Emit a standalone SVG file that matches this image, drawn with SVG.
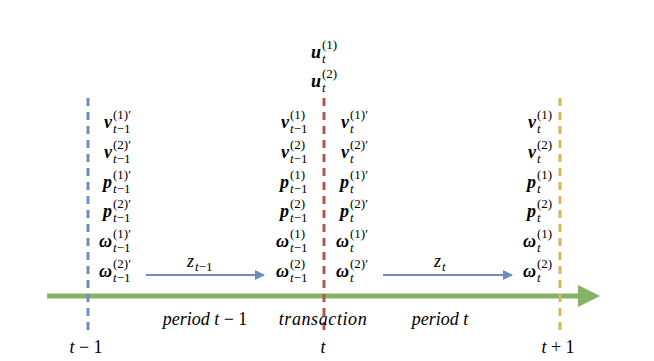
<svg xmlns="http://www.w3.org/2000/svg" width="654" height="361" viewBox="0 0 654 361" font-family="Liberation Serif">
<defs>
<style>
text{font-family:'Liberation Serif',serif;fill:#000}
.b{font-style:italic;font-weight:bold;font-size:18px;text-anchor:end}
.s{font-size:13px}
.si{font-style:italic;font-size:13px}
.n{font-style:normal}
.lab{font-style:italic;font-size:18px;text-anchor:middle}
.dash{fill:none;stroke-width:3;stroke-dasharray:8 6}
.flow{stroke:#6c8ebf;stroke-width:2;fill:none;marker-end:url(#ah)}
</style>
<marker id="ah" viewBox="0 0 10 10" refX="9" refY="5" markerWidth="5" markerHeight="5" orient="auto" markerUnits="strokeWidth">
<path d="M0,0 L10,5 L0,10 z" fill="#6c8ebf"/>
</marker>
</defs>
<g id="connectors">
<path d="M47,296 H582" stroke="#82b366" stroke-width="5" fill="none"/>
<path d="M578,285 L600,296 L578,307 z" fill="#82b366"/>
<line class="dash" x1="88" y1="98" x2="88" y2="336" stroke="#6c8ebf"/>
<line class="dash" x1="324" y1="98" x2="324" y2="336" stroke="#b85450"/>
<line class="dash" x1="560" y1="98" x2="560" y2="336" stroke="#d6b656"/>
<line class="flow" x1="146" y1="275" x2="264" y2="275"/>
<line class="flow" x1="383" y1="275" x2="512" y2="275"/>
</g>
<g id="flow-labels">
<text x="187" y="267" class="si" style="font-size:18px">z</text><text x="195" y="271" class="si">t<tspan class="n">−1</tspan></text>
<text x="434" y="267" class="si" style="font-size:18px">z</text><text x="442" y="271" class="si">t</text>
</g>
<g id="period-labels">
<text x="205" y="325" class="lab">period t <tspan class="n">− 1</tspan></text>
<text x="323" y="325" class="lab" letter-spacing="0.6">transaction</text>
<text x="440" y="325" class="lab">period t</text>
</g>
<g id="tick-labels">
<text x="86" y="353" class="lab">t <tspan class="n">− 1</tspan></text>
<text x="323" y="353" class="lab">t</text>
<text x="558" y="353" class="lab">t <tspan class="n">+ 1</tspan></text>
</g>
<g id="u-values">
<text x="321" y="58" class="b">u</text><text x="322" y="49" class="s">(1)</text><text x="322" y="63" class="si">t</text>
<text x="321" y="87" class="b">u</text><text x="322" y="78" class="s">(2)</text><text x="322" y="92" class="si">t</text>
</g>
<g id="state-t-1-end">
<text x="112" y="128" class="b">v</text><text x="113" y="119" class="s">(1)′</text><text x="113" y="133" class="si">t<tspan class="n">−1</tspan></text>
<text x="112" y="158" class="b">v</text><text x="113" y="149" class="s">(2)′</text><text x="113" y="163" class="si">t<tspan class="n">−1</tspan></text>
<text x="112" y="188" class="b">p</text><text x="113" y="179" class="s">(1)′</text><text x="113" y="193" class="si">t<tspan class="n">−1</tspan></text>
<text x="112" y="217" class="b">p</text><text x="113" y="208" class="s">(2)′</text><text x="113" y="222" class="si">t<tspan class="n">−1</tspan></text>
<text x="112" y="247" class="b">ω</text><text x="113" y="238" class="s">(1)′</text><text x="113" y="252" class="si">t<tspan class="n">−1</tspan></text>
<text x="112" y="277" class="b">ω</text><text x="113" y="268" class="s">(2)′</text><text x="113" y="282" class="si">t<tspan class="n">−1</tspan></text>
</g>
<g id="state-t-before">
<text x="289" y="128" class="b">v</text><text x="290" y="119" class="s">(1)</text><text x="290" y="133" class="si">t<tspan class="n">−1</tspan></text>
<text x="289" y="158" class="b">v</text><text x="290" y="149" class="s">(2)</text><text x="290" y="163" class="si">t<tspan class="n">−1</tspan></text>
<text x="289" y="188" class="b">p</text><text x="290" y="179" class="s">(1)</text><text x="290" y="193" class="si">t<tspan class="n">−1</tspan></text>
<text x="289" y="217" class="b">p</text><text x="290" y="208" class="s">(2)</text><text x="290" y="222" class="si">t<tspan class="n">−1</tspan></text>
<text x="289" y="247" class="b">ω</text><text x="290" y="238" class="s">(1)</text><text x="290" y="252" class="si">t<tspan class="n">−1</tspan></text>
<text x="289" y="277" class="b">ω</text><text x="290" y="268" class="s">(2)</text><text x="290" y="282" class="si">t<tspan class="n">−1</tspan></text>
</g>
<g id="state-t-after">
<text x="349" y="128" class="b">v</text><text x="350" y="119" class="s">(1)′</text><text x="350" y="133" class="si">t</text>
<text x="349" y="158" class="b">v</text><text x="350" y="149" class="s">(2)′</text><text x="350" y="163" class="si">t</text>
<text x="349" y="188" class="b">p</text><text x="350" y="179" class="s">(1)′</text><text x="350" y="193" class="si">t</text>
<text x="349" y="217" class="b">p</text><text x="350" y="208" class="s">(2)′</text><text x="350" y="222" class="si">t</text>
<text x="349" y="247" class="b">ω</text><text x="350" y="238" class="s">(1)′</text><text x="350" y="252" class="si">t</text>
<text x="349" y="277" class="b">ω</text><text x="350" y="268" class="s">(2)′</text><text x="350" y="282" class="si">t</text>
</g>
<g id="state-t1-before">
<text x="536" y="128" class="b">v</text><text x="537" y="119" class="s">(1)</text><text x="537" y="133" class="si">t</text>
<text x="536" y="158" class="b">v</text><text x="537" y="149" class="s">(2)</text><text x="537" y="163" class="si">t</text>
<text x="536" y="188" class="b">p</text><text x="537" y="179" class="s">(1)</text><text x="537" y="193" class="si">t</text>
<text x="536" y="217" class="b">p</text><text x="537" y="208" class="s">(2)</text><text x="537" y="222" class="si">t</text>
<text x="536" y="247" class="b">ω</text><text x="537" y="238" class="s">(1)</text><text x="537" y="252" class="si">t</text>
<text x="536" y="277" class="b">ω</text><text x="537" y="268" class="s">(2)</text><text x="537" y="282" class="si">t</text>
</g>
</svg>
